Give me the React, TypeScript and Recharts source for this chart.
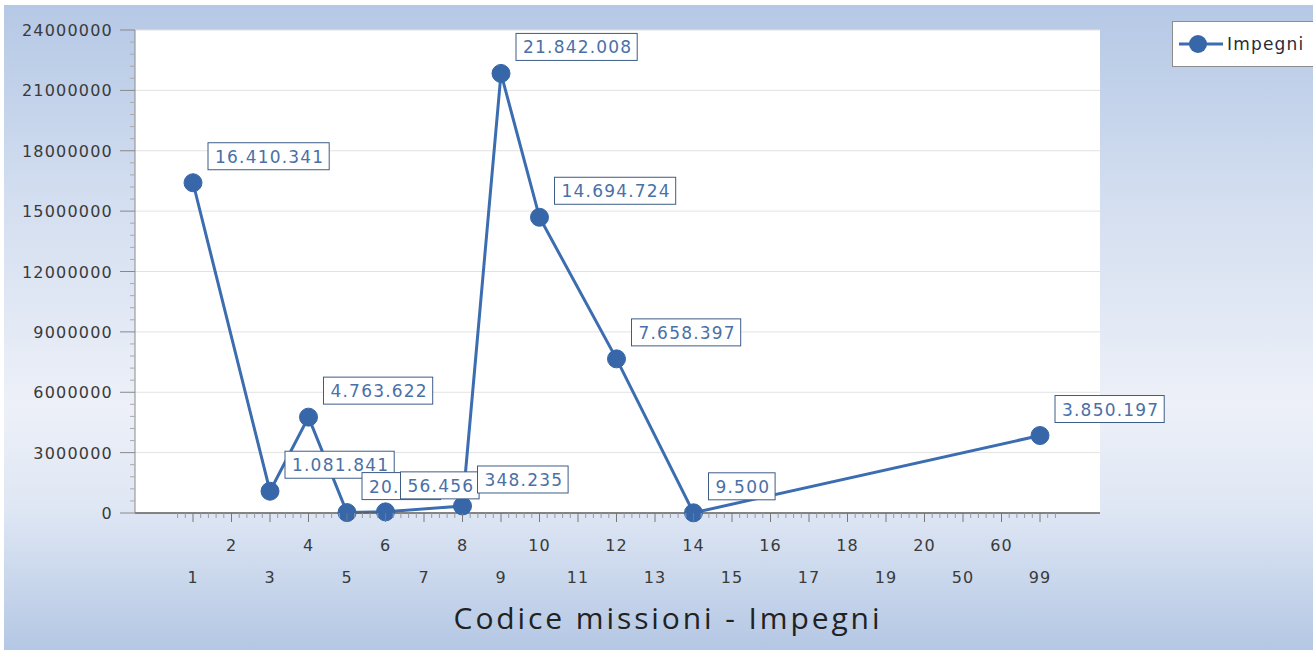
import React from 'react';
import { LineChart, Line, XAxis, YAxis, CartesianGrid, LabelList } from 'recharts';

const categories = ['1', '2', '3', '4', '5', '6', '7', '8', '9', '10', '11', '12', '13', '14', '15', '16', '17', '18', '19', '20', '50', '60', '99'];
const impegni: (number | null)[] = [
  16410341, null, 1081841, 4763622, 20656, 56456, null, 348235, 21842008, 14694724, null, 7658397,
  null, 9500, null, null, null, null, null, null, null, null, 3850197,
];
const yTicks = [0, 3000000, 6000000, 9000000, 12000000, 15000000, 18000000, 21000000, 24000000];

const data = categories.map((c, i) => ({ codice: c, Impegni: impegni[i] }));

const FONT = '"DejaVu Sans", Verdana, sans-serif';
const fmt = (v: number) => v.toString().replace(/\B(?=(\d{3})+(?!\d))/g, '.');

const XTick = (props: any) => {
  const { x, y, payload, index } = props;
  const upper = index % 2 === 1;
  return (
    <g>
      <line x1={x} x2={x} y1={y} y2={y + 9} stroke="#777" />
      {[-15.4, -7.7, 7.7, 15.4].map((d) => (
        <line key={d} x1={x + d} x2={x + d} y1={y} y2={y + 5} stroke="#999" />
      ))}
      <text
        x={x}
        y={upper ? y + 38 : y + 70}
        textAnchor="middle"
        fontFamily={FONT}
        fontSize={16}
        letterSpacing={1}
        fill="#3a3a3a"
      >
        {payload.value}
      </text>
    </g>
  );
};

const YTick = (props: any) => {
  const { x, y, payload } = props;
  const minors: number[] = [];
  if (payload.value > 0) minors.push(12.07, 24.15);
  if (payload.value < 24000000) minors.push(-12.07, -24.15);
  return (
    <g>
      <line x1={x - 15} x2={x} y1={y} y2={y} stroke="#888" />
      {minors.map((d) => (
        <line key={d} x1={x - 5} x2={x} y1={y + d} y2={y + d} stroke="#aaa" />
      ))}
      <text
        x={x - 22}
        y={y}
        dy={6}
        textAnchor="end"
        fontFamily={FONT}
        fontSize={16}
        letterSpacing={1.2}
        fill="#3a3a3a"
      >
        {payload.value}
      </text>
    </g>
  );
};

const PointLabel = (props: any) => {
  const { x, y, value } = props;
  if (value === null || value === undefined) return null;
  const s = fmt(value);
  const digits = s.replace(/\./g, '').length;
  const dots = s.length - digits;
  const w = digits * 12 + dots * 6.6 + 12;
  return (
    <g>
      <rect x={x + 15} y={y - 40} width={w} height={27} fill="#fff" stroke="#3d5c88" strokeWidth={1} />
      <text x={x + 22} y={y - 20} fontFamily={FONT} fontSize={17} letterSpacing={1.2} fill="#4a70a8">
        {s}
      </text>
    </g>
  );
};

export default function App() {
  return (
    <div style={{ position: 'absolute', left: 0, top: 0, width: 1313, height: 650, background: '#fff', overflow: 'hidden' }}>
      <div
        style={{
          position: 'absolute',
          left: 4,
          top: 5,
          right: 0,
          bottom: 0,
          background: 'linear-gradient(180deg, #b5c8e5 0%, #d3def0 30%, #edf0f8 62%, #dfe7f4 78%, #b4c7e4 100%)',
        }}
      />
      <div style={{ position: 'absolute', left: 0, top: 0 }}>
        <LineChart width={1313} height={650} data={data} margin={{ top: 30, right: 213, bottom: 0, left: 0 }}>
          <CartesianGrid vertical={false} stroke="#e2e2e2" fill="#fff" />
          <XAxis
            dataKey="codice"
            interval={0}
            height={137}
            padding={{ left: 58, right: 60 }}
            tickSize={0}
            tickMargin={0}
            tick={<XTick />}
            axisLine={{ stroke: '#606060', strokeWidth: 1.5 }}
          />
          <YAxis
            width={135}
            domain={[0, 24000000]}
            ticks={yTicks}
            interval={0}
            tickSize={0}
            tickMargin={0}
            tick={<YTick />}
            axisLine={{ stroke: '#8a8a8a' }}
          />
          <YAxis
            yAxisId="r"
            orientation="right"
            width={0}
            tick={false}
            tickLine={false}
            axisLine={{ stroke: '#dadada' }}
          />
          <Line
            type="linear"
            dataKey="Impegni"
            stroke="#3b6db0"
            strokeWidth={3}
            connectNulls
            dot={{ r: 9, fill: '#3767a8', stroke: '#3767a8', strokeWidth: 1 }}
            activeDot={false}
            isAnimationActive={false}
          >
            <LabelList dataKey="Impegni" content={<PointLabel />} />
          </Line>
        </LineChart>
      </div>
      <div
        style={{
          position: 'absolute',
          left: 1172,
          top: 21,
          width: 150,
          height: 46,
          background: '#fff',
          border: '1px solid #8c8c8c',
          boxSizing: 'border-box',
          display: 'flex',
          alignItems: 'center',
        }}
      >
        <svg width={54} height={44} style={{ flex: 'none' }}>
          <line x1={6} x2={50} y1={22} y2={22} stroke="#3b6db0" strokeWidth={3} />
          <circle cx={25} cy={22} r={9} fill="#3767a8" />
        </svg>
        <span style={{ fontFamily: FONT, fontSize: 17, letterSpacing: 1.2, color: '#2a2a3a' }}>Impegni</span>
      </div>
      <div
        style={{
          position: 'absolute',
          left: 368,
          top: 603,
          width: 600,
          textAlign: 'center',
          fontFamily: '"Open Sans", sans-serif',
          fontSize: 30,
          lineHeight: '30px',
          letterSpacing: 2.9,
          color: '#222',
        }}
      >
        Codice missioni - Impegni
      </div>
    </div>
  );
}
